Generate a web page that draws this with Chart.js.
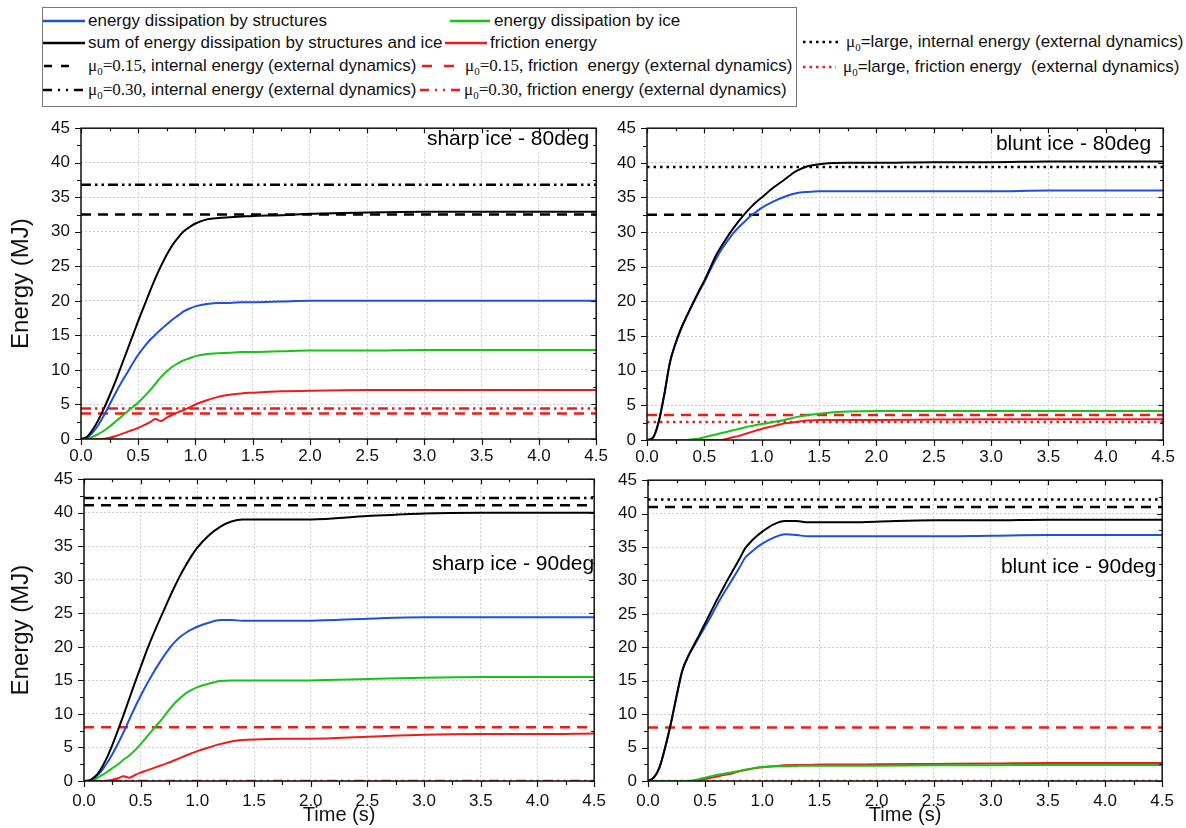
<!DOCTYPE html>
<html>
<head>
<meta charset="utf-8">
<script src="https://cdn.jsdelivr.net/npm/chart.js@4.4.1/dist/chart.umd.min.js"></script>
<style>
  body { margin: 0; background: #fff; width: 1186px; height: 828px; position: relative; overflow: hidden;
         font-family: "Liberation Sans", Arial, sans-serif; }
  canvas.panel { position: absolute; }
  #legendBox { position: absolute; left: 42px; top: 7px; width: 755px; height: 100px;
               border: 1px solid #777; box-sizing: border-box; }
  .item { position: absolute; font-size: 17px; line-height: 20px; white-space: nowrap; color: #111; }
  .item canvas { position: absolute; }
  .mu { font-family: "Liberation Serif", "Times New Roman", serif; }
  .mu sub { font-size: 11px; vertical-align: -4px; }
</style>
</head>
<body>
<div id="legendBox"></div>
<canvas class="panel" id="p0"></canvas>
<canvas class="panel" id="p1"></canvas>
<canvas class="panel" id="p2"></canvas>
<canvas class="panel" id="p3"></canvas>
<script>
// time samples shared by every curve (s)
const times = [0, 0.05, 0.1, 0.15, 0.2, 0.25, 0.3, 0.35, 0.4, 0.45, 0.5, 0.55, 0.6, 0.65, 0.7, 0.75,
  0.8, 0.85, 0.9, 0.95, 1.0, 1.1, 1.2, 1.3, 1.4, 1.5, 1.75, 2.0, 2.5, 3.0, 3.5, 4.0, 4.5];

const xTickValues = [0, 0.5, 1.0, 1.5, 2.0, 2.5, 3.0, 3.5, 4.0, 4.5];
const yTickValues = [0, 5, 10, 15, 20, 25, 30, 35, 40, 45];

const panelTitles = ['sharp ice - 80deg', 'blunt ice - 80deg', 'sharp ice - 90deg', 'blunt ice - 90deg'];

// energy (MJ) - sharp ice 80deg
const sharp80Sum    = [0,0.3,1.3,2.7,4.4,6.3,8.3,10.5,12.7,14.9,17.1,19.2,21.3,23.3,25.1,26.7,28.1,29.2,30.1,30.7,31.2,31.8,32.0,32.1,32.2,32.3,32.4,32.6,32.8,32.9,32.9,32.9,32.9];
const sharp80Struct = [0,0.2,0.9,2,3.4,5,6.6,8.1,9.5,10.9,12.2,13.3,14.3,15.1,15.9,16.6,17.3,17.9,18.5,18.9,19.2,19.55,19.7,19.7,19.8,19.8,19.9,20.0,20.0,20.0,20.0,20.0,20.0];
const sharp80Ice    = [0,0.05,0.3,0.7,1.2,1.8,2.5,3.2,3.9,4.6,5.3,6.1,7.0,8.0,9.0,9.8,10.5,11.0,11.4,11.7,12.0,12.3,12.4,12.5,12.6,12.6,12.7,12.8,12.8,12.9,12.9,12.9,12.9];
const sharp80Fric   = [0,0,0,0,0.05,0.2,0.4,0.7,1.0,1.3,1.6,2.0,2.4,2.9,2.6,3.1,3.5,3.9,4.2,4.6,5.0,5.6,6.1,6.4,6.6,6.7,6.9,7.0,7.1,7.1,7.1,7.1,7.1];

// blunt ice 80deg
const blunt80Sum    = [0,0.3,2.5,6.5,11.2,14.0,16.2,18.0,19.7,21.4,23.0,24.8,26.6,28.0,29.3,30.5,31.6,32.6,33.5,34.3,35.0,36.4,37.6,38.8,39.5,39.8,40.0,40.0,40.1,40.1,40.2,40.2,40.2];
const blunt80Struct = [0,0.3,2.5,6.5,11.2,14.0,16.2,18.0,19.7,21.3,22.8,24.5,26.1,27.5,28.7,29.8,30.7,31.5,32.3,32.9,33.5,34.4,35.1,35.6,35.8,35.9,35.9,35.9,35.9,35.9,36.0,36.0,36.0];
const blunt80Ice    = [0,0,0,0,0,0,0,0,0.1,0.2,0.4,0.6,0.8,1.0,1.2,1.4,1.6,1.8,2.0,2.15,2.3,2.6,2.9,3.3,3.6,3.8,4.1,4.2,4.2,4.2,4.2,4.2,4.2];
const blunt80Fric   = [0,0,0,0,0,0,0,0,0,0,0,0,0,0,0.2,0.4,0.6,0.85,1.1,1.35,1.6,2.0,2.4,2.6,2.8,2.9,2.9,2.9,2.95,3.0,3.0,3.0,3.0];

// sharp ice 90deg
const sharp90Sum    = [0,0.1,0.7,1.8,3.4,5.4,7.6,9.9,12.3,14.7,17.0,19.3,21.4,23.4,25.3,27.2,29.0,30.7,32.2,33.6,34.8,36.6,37.9,38.7,39.0,39.0,39.0,39.0,39.5,39.9,40.0,40.0,40.0];
const sharp90Struct = [0,0.1,0.6,1.4,2.6,4.0,5.6,7.3,9.2,11.0,12.7,14.3,15.8,17.2,18.5,19.7,20.7,21.5,22.1,22.6,23.0,23.6,24.0,24.0,23.9,23.9,23.9,23.9,24.2,24.4,24.4,24.4,24.4];
const sharp90Ice    = [0,0.05,0.3,0.8,1.3,1.9,2.5,3.2,3.8,4.6,5.5,6.5,7.5,8.5,9.5,10.6,11.6,12.4,13.1,13.6,14.0,14.5,14.9,15.0,15.0,15.0,15.0,15.0,15.2,15.4,15.5,15.5,15.5];
const sharp90Fric   = [0,0,0,0,0.05,0.2,0.4,0.7,0.5,0.9,1.25,1.55,1.85,2.15,2.45,2.75,3.1,3.45,3.8,4.15,4.45,5.0,5.5,5.9,6.1,6.2,6.3,6.3,6.6,6.9,7.0,7.0,7.1];

// blunt ice 90deg
const blunt90Sum    = [0,0.5,2,5,8.6,12.7,16.5,18.6,20.3,21.9,23.6,25.3,27.0,28.6,30.2,31.7,33.2,34.8,35.8,36.6,37.3,38.4,38.9,38.9,38.7,38.7,38.7,38.8,39.0,39.0,39.1,39.1,39.1];
const blunt90Struct = [0,0.5,2,5,8.6,12.7,16.5,18.6,20.1,21.6,23.1,24.6,26.2,27.7,29.1,30.5,31.9,33.4,34.2,34.9,35.5,36.4,36.9,36.8,36.6,36.6,36.6,36.6,36.6,36.7,36.8,36.8,36.8];
const blunt90Ice    = [0,0,0,0,0,0,0,0,0.1,0.3,0.5,0.7,0.9,1.05,1.2,1.35,1.5,1.7,1.85,2.0,2.1,2.2,2.2,2.25,2.3,2.3,2.3,2.3,2.35,2.35,2.4,2.4,2.4];
const blunt90Fric   = [0,0,0,0,0,0,0,0,0,0.15,0.3,0.5,0.65,0.85,1.0,1.2,1.45,1.65,1.8,1.95,2.05,2.2,2.35,2.4,2.4,2.45,2.45,2.5,2.55,2.6,2.7,2.7,2.7];

// external dynamics levels, one per panel (TL, TR, BL, BR); null = not shown
const refInternal015   = [32.5, 32.5, 41.1, 41.0];
const refInternal030   = [36.8, null, 42.2, null];
const refInternalLarge = [null, 39.4, null, 42.1];
const refFriction015   = [3.7, 3.6, 8.0, 8.0];
const refFriction030   = [4.4, null, 0, null];
const refFrictionLarge = [null, 2.6, null, 0];

const BLUE = '#1f4fdc', GREEN = '#17c317', RED = '#ee1b1b', BLACK = '#000';
const DASH = [10, 7], DASHDOTDOT = [10, 4, 2.5, 4, 2.5, 4], DOT = [2.5, 4];

// ---------- legend (html) ----------
const legendItems = [
  { x: 43, y: 21, w: 42, gap: 3, color: BLUE, dash: [], html: 'energy dissipation by structures' },
  { x: 450, y: 21, w: 40, gap: 4, color: GREEN, dash: [], html: 'energy dissipation by ice' },
  { x: 43, y: 43, w: 42, gap: 3, color: BLACK, dash: [], html: 'sum of energy dissipation by structures and ice' },
  { x: 445, y: 43, w: 42, gap: 3, color: RED, dash: [], html: 'friction energy' },
  { x: 44, y: 66, w: 26, gap: 18, color: BLACK, dash: [8, 9], html: '<span class="mu">&mu;<sub>0</sub>=0.15,</span> internal energy (external dynamics)' },
  { x: 422, y: 66, w: 32, gap: 11, color: RED, dash: [10, 12], html: '<span class="mu">&mu;<sub>0</sub>=0.15,</span> friction&nbsp; energy (external dynamics)' },
  { x: 43, y: 90, w: 41, gap: 4, color: BLACK, dash: [9, 6, 2, 6, 2, 6], html: '<span class="mu">&mu;<sub>0</sub>=0.30,</span> internal energy (external dynamics)' },
  { x: 420, y: 90, w: 42, gap: 2, color: RED, dash: [9, 6, 2, 6, 2, 6], html: '<span class="mu">&mu;<sub>0</sub>=0.30,</span> friction energy (external dynamics)' },
  { x: 803, y: 42, w: 37, gap: 6, color: BLACK, dash: DOT, html: '<span class="mu">&mu;<sub>0</sub></span>=large, internal energy (external dynamics)' },
  { x: 803, y: 67, w: 33, gap: 7, color: RED, dash: DOT, html: '<span class="mu">&mu;<sub>0</sub></span>=large, friction energy&nbsp; (external dynamics)' }
];

legendItems.forEach(it => {
  const div = document.createElement('div');
  div.className = 'item';
  div.style.left = it.x + 'px';
  div.style.top = (it.y - 10) + 'px';
  const c = document.createElement('canvas');
  c.width = it.w; c.height = 6;
  c.style.left = '0px'; c.style.top = '7px';
  const g = c.getContext('2d');
  g.strokeStyle = it.color; g.lineWidth = 2.5; g.setLineDash(it.dash);
  g.beginPath(); g.moveTo(0, 3); g.lineTo(it.w, 3); g.stroke();
  div.appendChild(c);
  const span = document.createElement('span');
  span.style.marginLeft = (it.w + it.gap) + 'px';
  span.innerHTML = it.html;
  div.appendChild(span);
  document.body.appendChild(div);
});

// ---------- plugins ----------
const framePlugin = {
  id: 'frame',
  afterDraw(chart) {
    const { ctx, chartArea: a, scales: { x, y } } = chart;
    ctx.save();
    ctx.strokeStyle = '#111';
    ctx.lineWidth = 1.5;
    ctx.strokeRect(a.left, a.top, a.width, a.height);
    ctx.lineWidth = 1.2;
    ctx.beginPath();
    for (let v = 0; v <= 45; v += 2.5) {
      const py = Math.round(y.getPixelForValue(v)) + 0.5;
      const major = v % 5 === 0;
      ctx.moveTo(a.left - (major ? 6 : 4), py); ctx.lineTo(a.left, py);
      ctx.moveTo(a.right, py); ctx.lineTo(a.right - (major ? 5 : 3), py);
    }
    for (let v = 0; v <= 4.5001; v += 0.25) {
      const px = Math.round(x.getPixelForValue(v)) + 0.5;
      const major = Math.abs(v * 2 - Math.round(v * 2)) < 1e-6;
      ctx.moveTo(px, a.bottom); ctx.lineTo(px, a.bottom + (major ? 6 : 4));
      ctx.moveTo(px, a.top); ctx.lineTo(px, a.top + (major ? 5 : 3));
    }
    ctx.stroke();
    ctx.restore();
  }
};

const titlePlugin = {
  id: 'panelTitle',
  beforeDatasetsDraw(chart, args, opts) {
    const { ctx, chartArea: a } = chart;
    ctx.save();
    ctx.font = '21px "Liberation Sans", Arial, sans-serif';
    const w = ctx.measureText(opts.text).width;
    const xr = a.right - opts.dx, yb = a.top + opts.dy;
    ctx.fillStyle = '#fff';
    ctx.fillRect(xr - w - 4, yb - 18, w + 6, 24);
    ctx.fillStyle = '#000';
    ctx.textAlign = 'right';
    ctx.textBaseline = 'alphabetic';
    ctx.fillText(opts.text, xr, yb);
    ctx.restore();
  }
};

// ---------- panels ----------
function curve(vals) {
  return times.map((t, i) => ({ x: t, y: vals[i] }));
}
function level(v) {
  return [{ x: 0, y: v }, { x: 4.5, y: v }];
}

const panels = [
  { id: 'p0', sum: sharp80Sum, st: sharp80Struct, ice: sharp80Ice, fr: sharp80Fric,
    left: 0, top: 107, yW: 81, plotW: 516, plotH: 320, xH: 31, showY: true, showX: false, tpad: 7, tdx: 7, tdy: 17 },
  { id: 'p1', sum: blunt80Sum, st: blunt80Struct, ice: blunt80Ice, fr: blunt80Fric,
    left: 600, top: 107, yW: 47, plotW: 517, plotH: 321, xH: 31, showY: false, showX: false, tpad: 7, tdx: 12, tdy: 22 },
  { id: 'p2', sum: sharp90Sum, st: sharp90Struct, ice: sharp90Ice, fr: sharp90Fric,
    left: 0, top: 458, yW: 84, plotW: 514, plotH: 311, xH: 47, showY: true, showX: true, tpad: 10, tdx: 0, tdy: 91 },
  { id: 'p3', sum: blunt90Sum, st: blunt90Struct, ice: blunt90Ice, fr: blunt90Fric,
    left: 600, top: 459, yW: 48, plotW: 518, plotH: 310, xH: 47, showY: false, showX: true, tpad: 10, tdx: 6, tdy: 93 }
];

const PAD_TOP = 12, PAD_RIGHT = 18;
const tickFont = { family: '"Liberation Sans", Arial, sans-serif', size: 17 };

panels.forEach((p, k) => {
  const cv = document.getElementById(p.id);
  cv.width = p.yW + p.plotW + PAD_RIGHT;
  cv.height = PAD_TOP + p.plotH + p.xH;
  cv.style.left = p.left + 'px';
  cv.style.top = p.top + 'px';

  const solid = (label, data, color) => ({
    label, data: curve(data), borderColor: color, borderWidth: 2, pointRadius: 0,
    cubicInterpolationMode: 'monotone', fill: false
  });
  const flat = (label, v, color, dash) => ({
    label, data: level(v), borderColor: color, borderWidth: 2.5, borderDash: dash,
    pointRadius: 0, fill: false
  });

  const datasets = [
    solid('sum of energy dissipation by structures and ice', p.sum, BLACK),
    solid('energy dissipation by structures', p.st, BLUE),
    solid('energy dissipation by ice', p.ice, GREEN),
    solid('friction energy', p.fr, RED)
  ];
  if (refInternal015[k] !== null) datasets.push(flat('μ0=0.15, internal energy', refInternal015[k], BLACK, DASH));
  if (refInternal030[k] !== null) datasets.push(flat('μ0=0.30, internal energy', refInternal030[k], BLACK, DASHDOTDOT));
  if (refInternalLarge[k] !== null) datasets.push(flat('μ0=large, internal energy', refInternalLarge[k], BLACK, DOT));
  if (refFriction015[k] !== null) datasets.push(flat('μ0=0.15, friction energy', refFriction015[k], RED, DASH));
  if (refFriction030[k] !== null) datasets.push(flat('μ0=0.30, friction energy', refFriction030[k], RED, DASHDOTDOT));
  if (refFrictionLarge[k] !== null) datasets.push(flat('μ0=large, friction energy', refFrictionLarge[k], RED, DOT));

  new Chart(cv, {
    type: 'line',
    data: { datasets },
    options: {
      responsive: false,
      animation: false,
      devicePixelRatio: 1,
      layout: { padding: { top: PAD_TOP, right: PAD_RIGHT, left: 0, bottom: 0 } },
      plugins: {
        legend: { display: false },
        tooltip: { enabled: false },
        panelTitle: { text: panelTitles[k], dx: p.tdx, dy: p.tdy }
      },
      scales: {
        x: {
          type: 'linear', min: 0, max: 4.5,
          afterBuildTicks: s => { s.ticks = xTickValues.map(v => ({ value: v })); },
          afterFit: s => { s.height = p.xH; },
          ticks: { font: tickFont, color: '#111', padding: p.tpad, maxRotation: 0, autoSkip: false,
                   callback: v => Number(v).toFixed(1) },
          grid: { color: '#cdcdcd', lineWidth: 1, drawTicks: false },
          border: { display: false, dash: [2, 2] },
          title: { display: p.showX, text: 'Time (s)', color: '#111',
                   font: { family: '"Liberation Sans", Arial, sans-serif', size: 20 }, padding: { top: 0, bottom: 1 } }
        },
        y: {
          min: 0, max: 45,
          afterBuildTicks: s => { s.ticks = yTickValues.map(v => ({ value: v })); },
          afterFit: s => { s.width = p.yW; },
          ticks: { font: tickFont, color: '#111', padding: 11 },
          grid: { color: '#cdcdcd', lineWidth: 1, drawTicks: false },
          border: { display: false, dash: [2, 2] },
          title: { display: p.showY, text: 'Energy (MJ)', color: '#111',
                   font: { family: '"Liberation Sans", Arial, sans-serif', size: 24 }, padding: { top: 7, bottom: 0 } }
        }
      }
    },
    plugins: [titlePlugin, framePlugin]
  });
});
</script>
</body>
</html>
